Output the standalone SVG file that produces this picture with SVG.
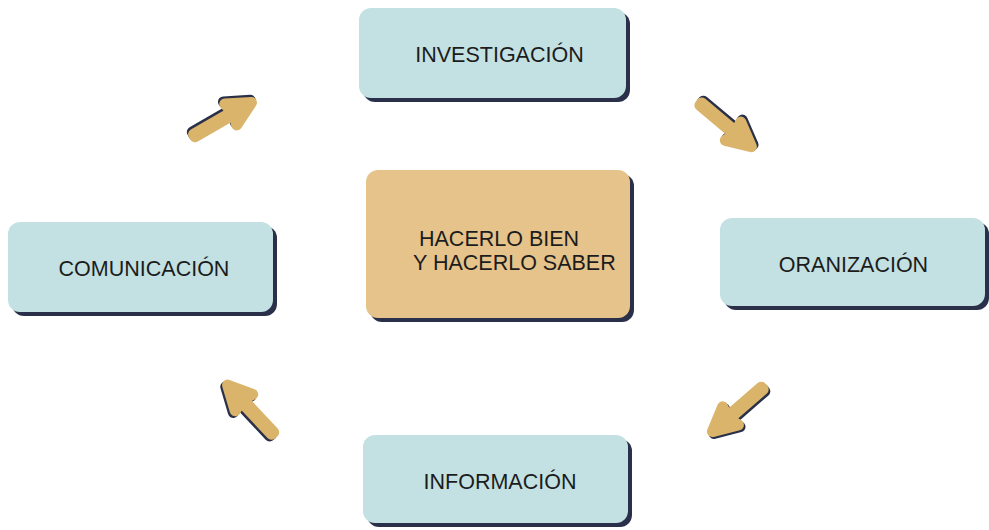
<svg xmlns="http://www.w3.org/2000/svg" width="989" height="530" viewBox="0 0 989 530">
<defs>
<style>
.sh{fill:#2a3049}
.bx{fill:#c3e1e3}
.ctr{fill:#e5c38a}
.t{font-family:"Liberation Sans",Arial,sans-serif;font-size:21.5px;fill:#1c1c1c;text-anchor:middle}
.ar{fill:#d9b46a;stroke:#d9b46a;stroke-width:11;stroke-linejoin:round}
.ars{fill:#2a3049;stroke:#2a3049;stroke-width:11;stroke-linejoin:round}
</style>
<path id="arrow" d="M5,-1.5 L50,-1.5 L47,-12 L71,0 L47,12 L50,1.5 L5,1.5 Z"/>
</defs>
<rect width="989" height="530" fill="#ffffff"/>
<g id="connectors">
<g transform="translate(190,138) rotate(-30)"><use href="#arrow" class="ars" transform="translate(0,-2.5)"/><use href="#arrow" class="ar"/></g>
<g transform="translate(697,101) rotate(40)"><use href="#arrow" class="ars" transform="translate(0,-2.5)"/><use href="#arrow" class="ar"/></g>
<g transform="translate(766,385) rotate(139)"><use href="#arrow" class="ars" transform="translate(0,-2.5)"/><use href="#arrow" class="ar"/></g>
<g transform="translate(276,437) rotate(-133)"><use href="#arrow" class="ars" transform="translate(0,-2.5)"/><use href="#arrow" class="ar"/></g>
</g>
<g id="investigacion">
<rect class="sh" x="363" y="12" width="267" height="90" rx="12"/>
<rect class="bx" x="359" y="8" width="267" height="90" rx="12"/>
<text class="t" x="499.5" y="62">INVESTIGACIÓN</text>
</g>
<g id="centro">
<rect class="sh" x="370" y="174" width="264" height="148" rx="12"/>
<rect class="ctr" x="366" y="170" width="264" height="148" rx="12"/>
<text class="t" x="419" y="246" style="text-anchor:start">HACERLO BIEN</text>
<text class="t" x="413" y="270" style="text-anchor:start">Y HACERLO SABER</text>
</g>
<g id="comunicacion">
<rect class="sh" x="12" y="226" width="265" height="90" rx="12"/>
<rect class="bx" x="8" y="222" width="265" height="90" rx="12"/>
<text class="t" x="144" y="276">COMUNICACIÓN</text>
</g>
<g id="organizacion">
<rect class="sh" x="724" y="222" width="265" height="88" rx="12"/>
<rect class="bx" x="720" y="218" width="265" height="88" rx="12"/>
<text class="t" x="853.5" y="272">ORANIZACIÓN</text>
</g>
<g id="informacion">
<rect class="sh" x="367" y="439" width="265" height="88" rx="12"/>
<rect class="bx" x="363" y="435" width="265" height="88" rx="12"/>
<text class="t" x="500" y="489">INFORMACIÓN</text>
</g>
</svg>
